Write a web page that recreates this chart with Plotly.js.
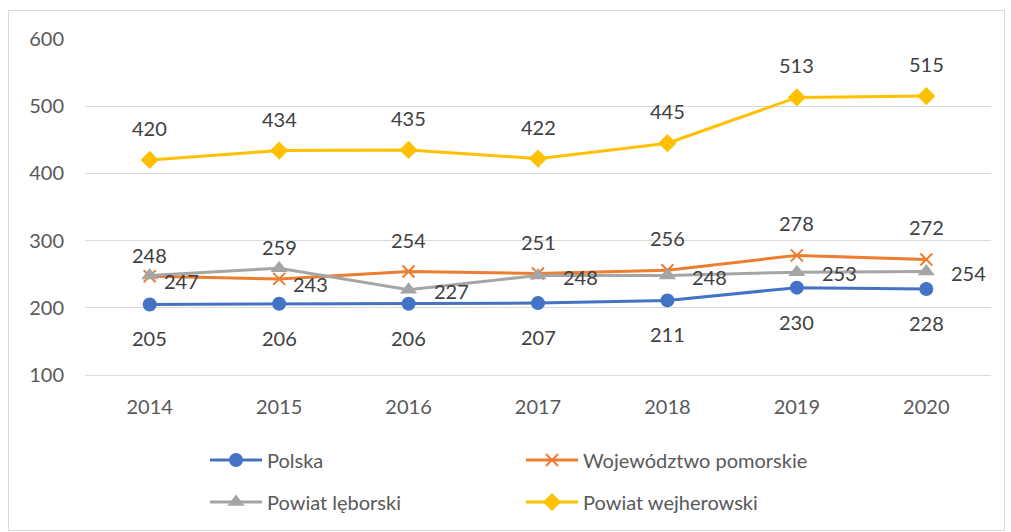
<!DOCTYPE html>
<html>
<head>
<meta charset="utf-8">
<script src="https://cdn.plot.ly/plotly-3.0.1.min.js"></script>
<style>
html,body{margin:0;padding:0;background:#fff;}
#chart{width:1011px;height:532px;}
#err{position:absolute;left:100px;top:200px;color:red;font-size:14px;}
</style>
</head>
<body>
<div id="chart"></div>
<div id="err"></div>
<script>
window.onerror = function(m){ document.getElementById('err').textContent += ' ' + m; };
// ---- data ----
var years = ['2014', '2015', '2016', '2017', '2018', '2019', '2020'];
var seriesNames = ['Polska', 'Województwo pomorskie', 'Powiat lęborski', 'Powiat wejherowski'];
var polska = [205, 206, 206, 207, 211, 230, 228];
var pomorskie = [247, 243, 254, 251, 256, 278, 272];
var leborski = [248, 259, 227, 248, 248, 253, 254];
var wejherowski = [420, 434, 435, 422, 445, 513, 515];
var yTicks = [100, 200, 300, 400, 500, 600];

// label placement keywords (style)
var placePolska = ['below', 'below', 'below', 'below', 'below', 'below', 'below'];
var placePomorskie = ['right', 'right', 'above', 'above', 'above', 'above', 'above'];
var placeLeborski = ['above', 'above', 'right', 'right', 'right', 'right', 'right'];
var placeWejherowski = ['above', 'above', 'above', 'above', 'above', 'above', 'above'];

var FONT = 'Lato, "Open Sans", sans-serif';
var colors = ['#4472C4', '#ED7D31', '#A5A5A5', '#FFC000'];
var values = [polska, pomorskie, leborski, wejherowski];
var places = [placePolska, placePomorskie, placeLeborski, placeWejherowski];
var markers = [
  {symbol: 'circle', size: 14},
  {symbol: 'x-thin-open', size: 12, line: {width: 2, color: colors[1]}},
  {symbol: 'triangle-up', size: 15},
  {symbol: 'diamond', size: 14}
];
var legendIds = ['legend', 'legend', 'legend2', 'legend2'];

var offsets = [
  {below: {x: 0, y: -34, anchor: 'center'}},
  {above: {x: 0, y: 32, anchor: 'center'}, right: {x: 12, y: -5, anchor: 'left'}},
  {above: {x: 0, y: 21, anchor: 'center'}, right: {x: 23, y: -1, anchor: 'left'}},
  {above: {x: 0, y: 32, anchor: 'center'}}
];

var traces = [];
var annotations = [];
for (var s = 0; s < 4; s++) {
  var m = Object.assign({color: colors[s]}, markers[s]);
  traces.push({
    type: 'scatter', mode: 'lines+markers',
    name: seriesNames[s], x: years, y: values[s],
    line: {color: colors[s], width: 3},
    marker: m,
    legend: legendIds[s]
  });
  for (var i = 0; i < years.length; i++) {
    var o = offsets[s][places[s][i]];
    annotations.push({
      x: i, y: values[s][i], xref: 'x', yref: 'y',
      text: String(values[s][i]), showarrow: false,
      xanchor: o.anchor, yanchor: 'middle',
      xshift: o.x, yshift: o.y,
      font: {family: FONT, size: 20, color: '#404040'}
    });
  }
}

var L = 85, R = 20, T = 39, B = 157;
var W = 1011, H = 532;
var pw = W - L - R, ph = H - T - B;

function legendCfg(ypx) {
  return {
    orientation: 'h', xref: 'container', yref: 'container',
    x: 205 / W, y: 1 - ypx / H,
    xanchor: 'left', yanchor: 'middle',
    font: {family: FONT, size: 20, color: '#595959'},
    itemwidth: 52,
    entrywidth: 249, entrywidthmode: 'pixels',
    bgcolor: 'rgba(0,0,0,0)', borderwidth: 0
  };
}

var layout = {
  width: W, height: H,
  margin: {l: L, r: R, t: T, b: B, pad: 0},
  paper_bgcolor: '#ffffff', plot_bgcolor: '#ffffff',
  font: {family: FONT, size: 20, color: '#595959'},
  showlegend: true,
  legend: legendCfg(460),
  legend2: legendCfg(502),
  xaxis: {
    type: 'category', categoryorder: 'array', categoryarray: years,
    range: [-0.5, years.length - 0.5],
    showgrid: false, zeroline: false,
    showline: true, linecolor: '#d9d9d9', linewidth: 1,
    ticks: '', ticklabelstandoff: 14,
    tickfont: {family: FONT, size: 20, color: '#595959'}
  },
  yaxis: {
    range: [100, 600], tickmode: 'array', tickvals: yTicks,
    showgrid: true, gridcolor: '#d9d9d9', gridwidth: 1,
    zeroline: false, showline: false,
    ticks: '', ticklabelstandoff: 20,
    tickfont: {family: FONT, size: 20, color: '#595959'}
  },
  annotations: annotations,
  shapes: [{
    type: 'rect', xref: 'paper', yref: 'paper',
    x0: (8.5 - L) / pw, x1: (1004.5 - L) / pw,
    y0: (H - B - 530.5) / ph, y1: (H - B - 10.5) / ph,
    line: {color: '#d9d9d9', width: 1}, fillcolor: 'rgba(0,0,0,0)', layer: 'below'
  }]
};

Plotly.newPlot('chart', traces, layout, {displayModeBar: false}).catch(function(e){
  document.getElementById('err').textContent += ' ' + e;
});
</script>
</body>
</html>
